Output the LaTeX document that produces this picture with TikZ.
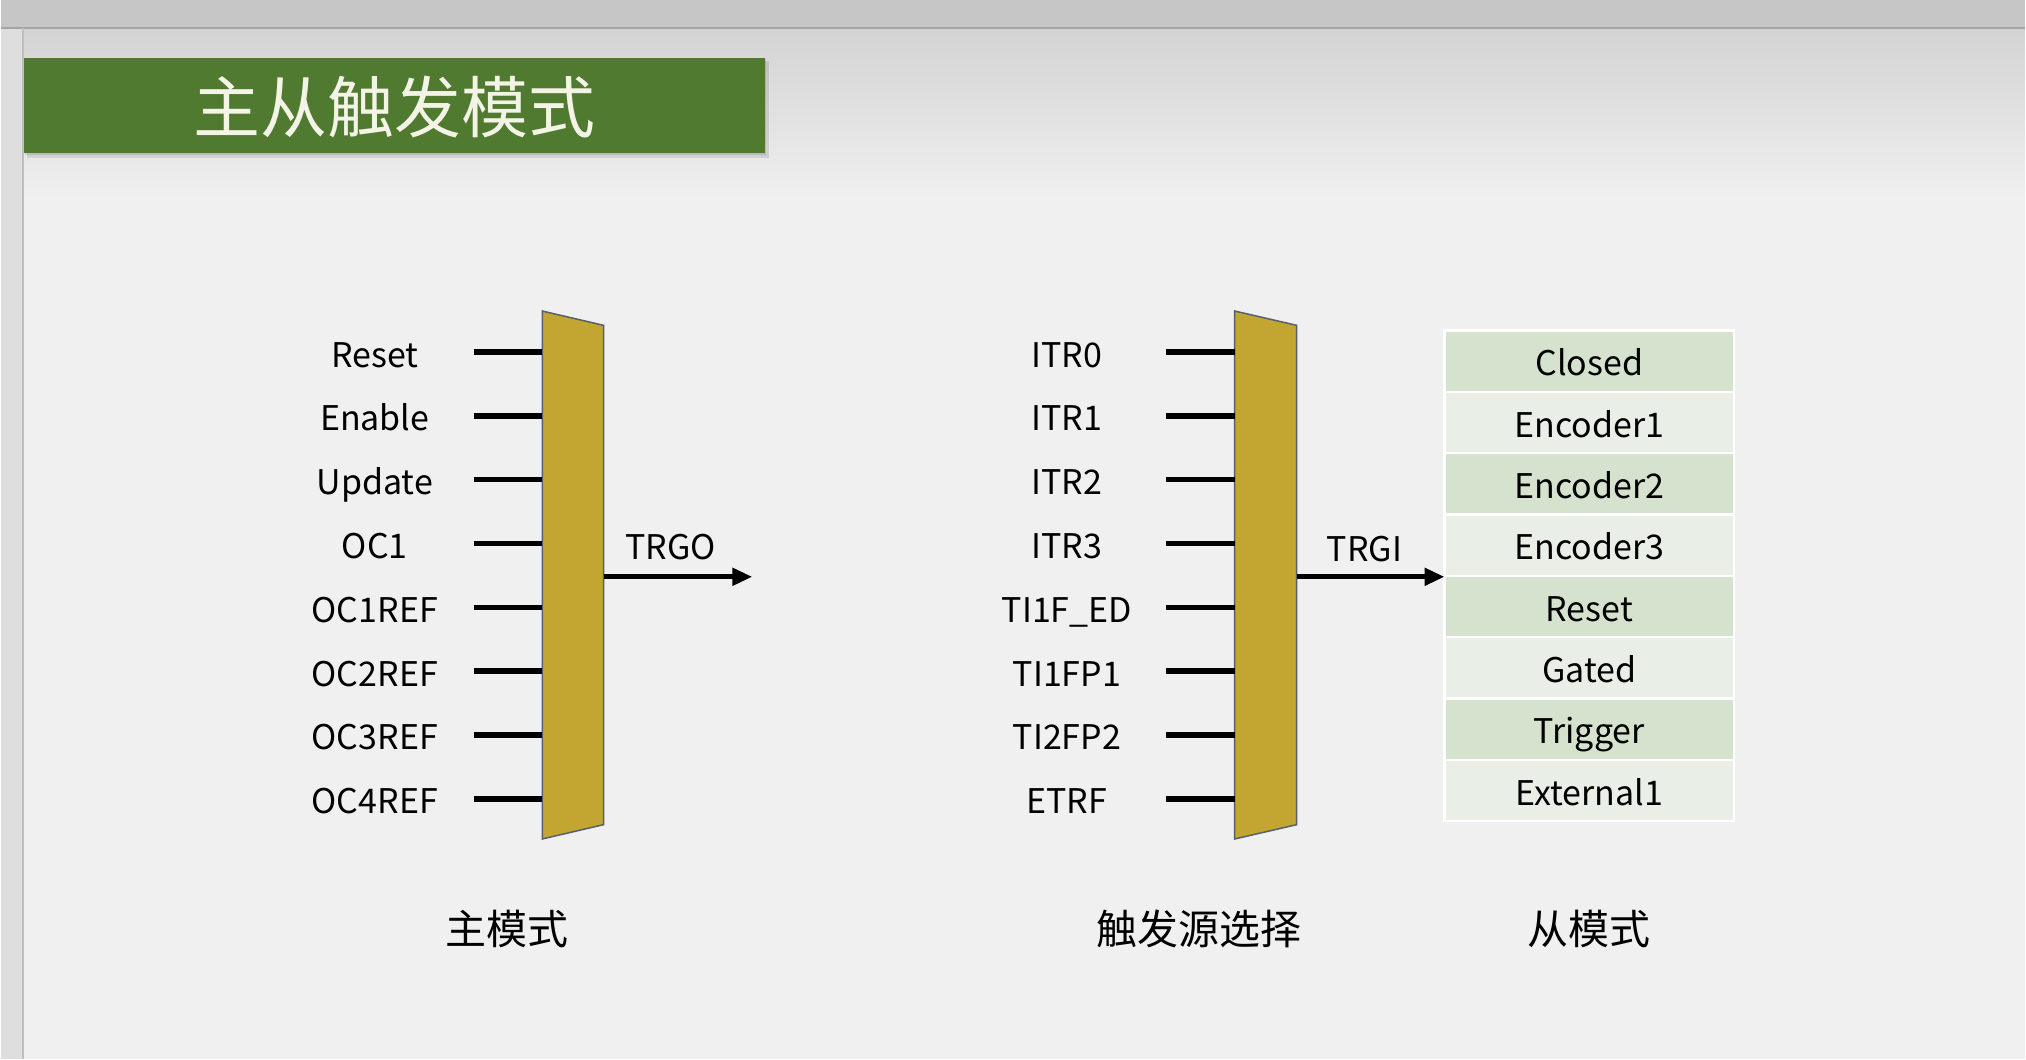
\documentclass[tikz,border=0pt]{standalone}
\usepackage{fontspec}
\setmainfont{Noto Sans CJK SC}
\usetikzlibrary{arrows.meta}
\usetikzlibrary{positioning}

\definecolor{slidebg}{HTML}{F0F0F0}
\definecolor{slidetop}{HTML}{D3D3D3}
\definecolor{topgrey}{HTML}{C6C6C6}
\definecolor{sidegrey}{HTML}{DEDEDE}
\definecolor{edgegrey}{HTML}{A4A4A4}
\definecolor{titlegreen}{HTML}{4F7A30}
\definecolor{titletext}{HTML}{F3F3E6}
\definecolor{muxgold}{HTML}{C3A631}
\definecolor{muxedge}{HTML}{56606C}
\definecolor{rowdark}{HTML}{D5E2CE}
\definecolor{rowlight}{HTML}{E9EFE6}

\tikzstyle{sig}=[font=\fontsize{34}{36}\selectfont, inner sep=0pt, text height=27pt, text depth=0pt]
\tikzstyle{wire}=[line width=5.5pt]
\tikzstyle{mux}=[fill=muxgold, draw=muxedge, line width=1.5pt]
\tikzstyle{trig}=[line width=5pt, -{Triangle[length=20pt, width=17pt]}]
\tikzstyle{moderow}=[sig, text height=29pt, draw=white, line width=2.5pt, outer sep=0pt,
  minimum width=290pt, minimum height=61.4pt]
\tikzstyle{caption}=[font=\fontsize{41}{44}\selectfont, inner sep=0pt]

\begin{document}
\begin{tikzpicture}[x=1pt, y=-1pt]
  % slide background
  \fill[topgrey] (0,0) rectangle (2026,28);
  \fill[sidegrey] (0,28) rectangle (22,1060);
  \shade[top color=slidetop, bottom color=slidebg] (22,28) rectangle (2026,200);
  \fill[slidebg] (22,199) rectangle (2026,1060);
  \draw[edgegrey, line width=2.5pt] (0,28) -- (2026,28);
  \draw[edgegrey!70, line width=1.5pt] (22,28) -- (22,1060);
  \useasboundingbox (0,0) rectangle (2026,1060);

  % title
  \fill[black, opacity=0.10] (26,61) rectangle (769,158);
  \fill[black, opacity=0.10] (24,59) rectangle (766,155);
  \node[fill=titlegreen, text=titletext, inner sep=0pt, minimum width=741pt,
    minimum height=95pt, anchor=north west, text depth=3pt,
    font=\fontsize{67}{70}\selectfont]
    (title) at (23,58) {主从触发模式};

  % master mode
  \coordinate (m-nw) at (541.7,311.4);
  \coordinate (m-ne) at (603,325.7);
  \coordinate (m-se) at (603,825.7);
  \coordinate (m-sw) at (541.7,840);
  \draw[mux] (m-nw) -- (m-ne) -- (m-se) -- (m-sw) -- cycle;
  \foreach \txt [count=\i] in {Reset, Enable, Update, OC1, OC1REF, OC2REF, OC3REF, OC4REF} {
    \node[sig] (ml\i) at (374, 290.1+63.9*\i) {\txt};
    \coordinate (mw\i) at (473, 288.6+63.9*\i);
    \draw[wire] (mw\i) -- (mw\i -| m-nw);
  }
  \coordinate (m-out) at (603,577.5);
  \coordinate (trgo-end) at (752,577.5);
  \draw[trig] (m-out) -- (trgo-end);
  \node[sig] (trgo) at (670,547) {TRGO};

  % trigger select
  \coordinate (s-nw) at (1235,311.4);
  \coordinate (s-ne) at (1297,325.7);
  \coordinate (s-se) at (1297,825.7);
  \coordinate (s-sw) at (1235,840);
  \draw[mux] (s-nw) -- (s-ne) -- (s-se) -- (s-sw) -- cycle;
  \foreach \txt [count=\i] in {ITR0, ITR1, ITR2, ITR3, TI1F\_ED, TI1FP1, TI2FP2, ETRF} {
    \node[sig] (sl\i) at (1067, 290.1+63.9*\i) {\txt};
    \coordinate (sw\i) at (1166, 288.6+63.9*\i);
    \draw[wire] (sw\i) -- (sw\i -| s-nw);
  }
  \node[sig] (trgi) at (1365,549) {TRGI};

  % slave modes
  \node[moderow, fill=rowdark]                     (closed) at (1590,361.7) {Closed};
  \node[moderow, fill=rowlight, below=0pt of closed] (enc1) {Encoder1};
  \node[moderow, fill=rowdark,  below=0pt of enc1]   (enc2) {Encoder2};
  \node[moderow, fill=rowlight, below=0pt of enc2]   (enc3) {Encoder3};
  \node[moderow, fill=rowdark,  below=0pt of enc3]   (reset) {Reset};
  \node[moderow, fill=rowlight, below=0pt of reset]  (gated) {Gated};
  \node[moderow, fill=rowdark,  below=0pt of gated]  (trigger) {Trigger};
  \node[moderow, fill=rowlight, below=0pt of trigger] (ext1) {External1};

  \coordinate (s-out) at (1297,577.5);
  \draw[trig] (s-out) -- (s-out -| enc3.south west);

  % captions
  \node[caption] (cap-m) at (506,930) {主模式};
  \node[caption] (cap-s) at (1199,930) {触发源选择};
  \node[caption] (cap-sl) at (1590,930) {从模式};
\end{tikzpicture}
\end{document}
